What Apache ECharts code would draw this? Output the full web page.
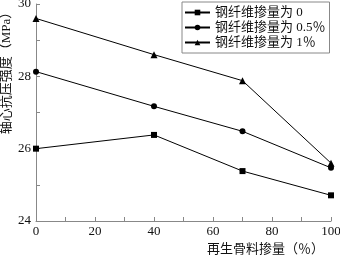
<!DOCTYPE html>
<html><head><meta charset="utf-8">
<script src="https://cdn.jsdelivr.net/npm/echarts@6/dist/echarts.min.js"></script>
<style>html,body{margin:0;padding:0;background:#fff}#c{width:340px;height:256px}</style>
</head><body><div id="c"></div>
<script>
const xValues = [0, 40, 70, 100];
const seriesNames = ['钢纤维掺量为 0', '钢纤维掺量为 0.5％', '钢纤维掺量为 1％'];
const fiber0 = [26.0, 26.38, 25.38, 24.71];
const fiber05 = [28.13, 27.17, 26.48, 25.47];
const fiber1 = [29.6, 28.6, 27.88, 25.6];
const symbols = ['rect', 'circle', 'triangle'];
const symbolSizes = [6, 6, 7];
const allData = [fiber0, fiber05, fiber1];
const yAxisTitle = '轴心抗压强度（MPa）';
const xAxisTitle = '再生骨料掺量（％）';
const font = '"Liberation Serif", "Noto Sans CJK SC", serif';
const chart = echarts.init(document.getElementById('c'));
chart.setOption({
  animation: false,
  backgroundColor: '#fff',
  grid: {left: 36, right: 9, top: 4, bottom: 35, outerBoundsMode: 'none', containLabel: false},
  graphic: [{
    type: 'text', x: 7, y: 70, rotation: Math.PI / 2,
    style: {text: yAxisTitle, fontFamily: font, fontSize: 13, fill: '#111',
      align: 'center', verticalAlign: 'middle'}
  }],
  legend: {
    orient: 'vertical', left: 182, top: 2,
    itemWidth: 25, itemHeight: 7, itemGap: 2,
    padding: [4, 4, 4, 2],
    borderColor: '#888', borderWidth: 1, backgroundColor: '#fff',
    textStyle: {fontFamily: font, fontSize: 13, color: '#111'},
    data: seriesNames
  },
  xAxis: {
    type: 'value', min: 0, max: 100, interval: 10,
    name: xAxisTitle, nameLocation: 'middle', nameGap: 20,
    nameTextStyle: {fontFamily: font, fontSize: 13, color: '#111', padding: [0, 0, 0, 164]},
    axisLine: {lineStyle: {color: '#888'}},
    axisTick: {inside: true, length: 4, lineStyle: {color: '#888'}},
    axisLabel: {fontFamily: font, fontSize: 13, color: '#111', margin: 4,
      formatter: v => (v % 20 === 0 ? String(v) : '')},
    splitLine: {show: false}
  },
  yAxis: {
    type: 'value', min: 24, max: 30, interval: 1,
    axisLine: {show: true, lineStyle: {color: '#888'}},
    axisTick: {show: true, inside: true, length: 4, lineStyle: {color: '#888'}},
    axisLabel: {fontFamily: font, fontSize: 13, color: '#111', margin: 5,
      formatter: v => (v % 2 === 0 ? String(v) : '')},
    splitLine: {show: false}
  },
  series: seriesNames.map((n, i) => ({
    name: n, type: 'line',
    data: xValues.map((x, j) => [x, allData[i][j]]),
    symbol: symbols[i], symbolSize: symbolSizes[i], showSymbol: true,
    lineStyle: {color: '#000', width: 1},
    itemStyle: {color: '#000'},
    color: '#000'
  }))
});
</script></body></html>
